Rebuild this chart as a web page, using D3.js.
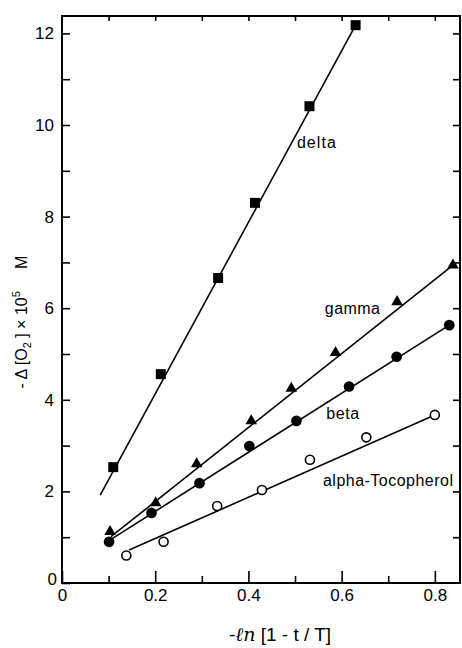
<!DOCTYPE html>
<html>
<head>
<meta charset="utf-8">
<script src="https://cdn.jsdelivr.net/npm/d3@7"></script>
<style>
  html, body { margin: 0; padding: 0; background: #fff; }
  svg { display: block; }
  text { font-family: "Liberation Sans", Arial, sans-serif; fill: #000; }
</style>
</head>
<body>
<svg id="chart" width="462" height="648"></svg>
<script>
// ---- data ----
const seriesNames = ["delta", "gamma", "beta", "alpha-Tocopherol"];
const deltaPts = [[0.110, 2.53], [0.212, 4.56], [0.335, 6.66], [0.414, 8.30], [0.531, 10.41], [0.630, 12.18]];
const gammaPts = [[0.103, 1.12], [0.201, 1.75], [0.289, 2.60], [0.406, 3.54], [0.492, 4.25], [0.587, 5.03], [0.719, 6.14], [0.839, 6.94]];
const betaPts  = [[0.101, 0.90], [0.192, 1.53], [0.295, 2.18], [0.402, 2.99], [0.503, 3.54], [0.616, 4.29], [0.718, 4.94], [0.831, 5.63]];
const alphaPts = [[0.138, 0.60], [0.218, 0.90], [0.333, 1.68], [0.429, 2.03], [0.532, 2.69], [0.653, 3.18], [0.800, 3.67]];
// fitted straight lines drawn in the figure: [x0, y0, x1, y1]
const deltaFit = [0.082, 1.92, 0.630, 12.18];
const gammaFit = [0.105, 1.01, 0.839, 6.94];
const betaFit  = [0.100, 0.92, 0.831, 5.63];
const alphaFit = [0.144, 0.72, 0.800, 3.67];
// label anchors (data units)
const labelPos = [[0.504, 9.50], [0.564, 5.87], [0.567, 3.58], [0.560, 2.12]];
const xTicksMajor = [0, 0.2, 0.4, 0.6, 0.8];
const xTicksMinor = [0.1, 0.3, 0.5, 0.7];
const xTickLabels = ["0", "0.2", "0.4", "0.6", "0.8"];
const yTicks = [0, 1, 2, 3, 4, 5, 6, 7, 8, 9, 10, 11, 12];
const yTickLabels = ["0", "", "2", "", "4", "", "6", "", "8", "", "10", "", "12"];
const xTopTicks = [0.1, 0.2, 0.3, 0.4, 0.5, 0.6, 0.7, 0.8];

// ---- layout ----
const svg = d3.select("#chart");
const L = 62, R = 460, T = 16, B = 583;
const x = d3.scaleLinear().domain([0, 0.854]).range([L, R]);
const y = d3.scaleLinear().domain([0, 12.38]).range([B, T]);

// frame
svg.append("rect").attr("x", L).attr("y", T).attr("width", R - L).attr("height", B - T)
  .attr("fill", "none").attr("stroke", "#000").attr("stroke-width", 2);

// left axis
const gl = svg.append("g").attr("transform", `translate(${L},0)`)
  .call(d3.axisLeft(y).tickValues(yTicks).tickSize(-8).tickPadding(8)
    .tickFormat((d, i) => yTickLabels[i]));
// right axis ticks
const gr = svg.append("g").attr("transform", `translate(${R},0)`)
  .call(d3.axisRight(y).tickValues(yTicks.slice(1)).tickSize(-7).tickFormat(""));
// bottom axis
const gbMinor = svg.append("g").attr("transform", `translate(0,${B})`)
  .call(d3.axisBottom(x).tickValues(xTicksMinor).tickSize(-7).tickFormat(""));
const gb = svg.append("g").attr("transform", `translate(0,${B})`)
  .call(d3.axisBottom(x).tickValues(xTicksMajor).tickSize(-12).tickPadding(6)
    .tickFormat((d, i) => xTickLabels[i]));
// top axis ticks
const gt = svg.append("g").attr("transform", `translate(0,${T})`)
  .call(d3.axisTop(x).tickValues(xTopTicks).tickSize(-5).tickFormat(""));

[gl, gr, gbMinor, gb, gt].forEach(g => {
  g.select(".domain").remove();
  g.selectAll(".tick line").attr("stroke", "#000").attr("stroke-width", 1.6);
  g.selectAll(".tick text").attr("font-size", 17).attr("font-family", "Liberation Sans, Arial, sans-serif").attr("fill", "#000");
});
// origin labels slight offset like reference
gl.selectAll(".tick").filter(d => d === 0).select("text").attr("x", -5).attr("dy", "0.1em");

// fitted lines
const fits = [deltaFit, gammaFit, betaFit, alphaFit];
svg.append("g").selectAll("line").data(fits).join("line")
  .attr("x1", d => x(d[0])).attr("y1", d => y(d[1]))
  .attr("x2", d => x(d[2])).attr("y2", d => y(d[3]))
  .attr("stroke", "#000").attr("stroke-width", 1.6);

// markers
const sq = d3.symbol().type(d3.symbolSquare).size(100);
const tri = d3.symbol().type(d3.symbolTriangle).size(58);
const cir = d3.symbol().type(d3.symbolCircle).size(90);
const ocir = d3.symbol().type(d3.symbolCircle).size(64);

svg.append("g").selectAll("path").data(deltaPts).join("path")
  .attr("d", sq).attr("transform", d => `translate(${x(d[0])},${y(d[1])})`).attr("fill", "#000");
svg.append("g").selectAll("path").data(gammaPts).join("path")
  .attr("d", tri).attr("transform", d => `translate(${x(d[0])},${y(d[1])})`).attr("fill", "#000");
svg.append("g").selectAll("path").data(betaPts).join("path")
  .attr("d", cir).attr("transform", d => `translate(${x(d[0])},${y(d[1])})`).attr("fill", "#000");
svg.append("g").selectAll("path").data(alphaPts).join("path")
  .attr("d", ocir).attr("transform", d => `translate(${x(d[0])},${y(d[1])})`)
  .attr("fill", "#fff").attr("stroke", "#000").attr("stroke-width", 1.6);

// series labels
const labelWidths = [39, 55, 33, 130];
svg.append("g").selectAll("text").data(seriesNames).join("text")
  .attr("x", (d, i) => x(labelPos[i][0])).attr("y", (d, i) => y(labelPos[i][1]))
  .attr("font-size", 16)
  .attr("textLength", (d, i) => labelWidths[i]).attr("lengthAdjust", "spacing")
  .text(d => d);

// y axis title
const yt = svg.append("text")
  .attr("transform", "translate(27,322) rotate(-90)")
  .attr("text-anchor", "middle").attr("font-size", 16)
  .style("white-space", "pre");
yt.append("tspan").text("- Δ [O");
yt.append("tspan").attr("font-size", 11).attr("dy", 4).text("2");
yt.append("tspan").attr("dy", -4).text(" ] × 10");
yt.append("tspan").attr("font-size", 11).attr("dy", -7).text("5");
yt.append("tspan").attr("dy", 7).text("     M");

// x axis title
const xt = svg.append("text").attr("x", 280).attr("y", 641)
  .attr("text-anchor", "middle").attr("font-size", 19).style("white-space", "pre");
xt.append("tspan").text("-");
xt.append("tspan").attr("font-style", "italic").attr("font-family", "DejaVu Serif, serif").text("ℓn");
xt.append("tspan").text(" [1 - t / T]");
</script>
</body>
</html>
